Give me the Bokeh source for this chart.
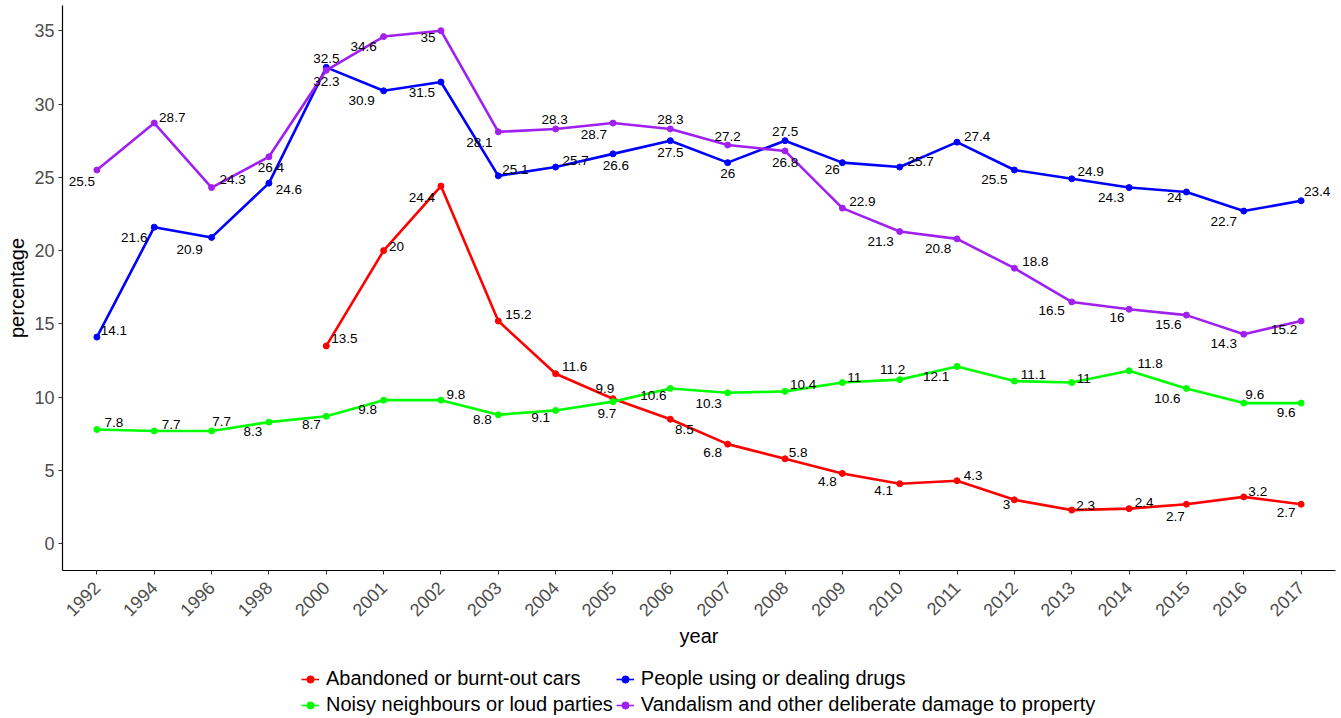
import math
from bokeh.plotting import figure
from bokeh.layouts import column
from bokeh.models import ColumnDataSource, Range1d, FixedTicker, Legend, LegendItem
from bokeh.core.properties import value
from bokeh.embed import file_html
from bokeh.resources import INLINE

NaN = float("nan")

# ---------------- data ----------------
years = ["1992", "1994", "1996", "1998", "2000", "2001", "2002", "2003", "2004", "2005", "2006",
         "2007", "2008", "2009", "2010", "2011", "2012", "2013", "2014", "2015", "2016", "2017"]

names = ["Abandoned or burnt-out cars", "Noisy neighbours or loud parties",
         "People using or dealing drugs", "Vandalism and other deliberate damage to property"]

cars = [NaN, NaN, NaN, NaN, 13.5, 20, 24.4, 15.2, 11.6, 9.9, 8.5,
        6.8, 5.8, 4.8, 4.1, 4.3, 3, 2.3, 2.4, 2.7, 3.2, 2.7]
noise = [7.8, 7.7, 7.7, 8.3, 8.7, 9.8, 9.8, 8.8, 9.1, 9.7, 10.6,
         10.3, 10.4, 11, 11.2, 12.1, 11.1, 11, 11.8, 10.6, 9.6, 9.6]
drugs = [14.1, 21.6, 20.9, 24.6, 32.5, 30.9, 31.5, 25.1, 25.7, 26.6, 27.5,
         26, 27.5, 26, 25.7, 27.4, 25.5, 24.9, 24.3, 24, 22.7, 23.4]
vandal = [25.5, 28.7, 24.3, 26.4, 32.3, 34.6, 35, 28.1, 28.3, 28.7, 28.3,
          27.2, 26.8, 22.9, 21.3, 20.8, 18.8, 16.5, 16, 15.6, 14.3, 15.2]

y_ticks = [0, 5, 10, 15, 20, 25, 30, 35]

# ---------------- label placement (screen px offsets, style only) ----------------
cars_dx = [0, 0, 0, 0, 18, 13, -19, 20, 19, -8, 14, -15, 13, -15, -16, 16, -8, 14, 15, -11, 14, -15]
cars_dy = [0, 0, 0, 0, -7, -4, 11, -6, -7, -10, 10, 8, -6, 8, 7, -5, 5, -5, -6, 12, -5, 8]
noise_dx = [17, 17, 10, -16, -15, -16, 15, -16, -15, -6, -17, -19, 18, 12, -7, -21, 19, 12, 21, -19, 11, -15]
noise_dy = [-7, -6, -9, 9, 8, 9, -6, 5, 7, 12, 7, 11, -7, -5, -10, 10, -7, -4, -7, 10, -9, 9]
drugs_dx = [17, -20, -22, 20, 0, -22, -19, 17, 20, 3, 0, 0, 0, -10, 21, 20, -20, 19, -18, -12, -20, 16]
drugs_dy = [-7, 10, 12, 6, -9, 10, 10, -6, -7, 12, 12, 11, -9, 7, -6, -6, 10, -7, 10, 6, 10, -9]
vandal_dx = [-15, 18, 21, 2, 0, -20, -13, -19, -1, -19, 0, 0, 0, 20, -19, -19, 21, -20, -12, -18, -20, -17]
vandal_dy = [12, -6, -8, 11, 11, 10, 7, 11, -9, 11, -9, -9, 12, -7, 10, 10, -7, 9, 8, 9, 9, 9]

colors = ["#FF0000", "#00FF00", "#0000FF", "#A020F0"]
series = [
    (names[0], cars, colors[0], cars_dx, cars_dy),
    (names[1], noise, colors[1], noise_dx, noise_dy),
    (names[2], drugs, colors[2], drugs_dx, drugs_dy),
    (names[3], vandal, colors[3], vandal_dx, vandal_dy),
]

FONT = "Liberation Sans"

p = figure(frame_width=1273, frame_height=565, output_backend="svg", toolbar_location=None,
           x_range=Range1d(-0.6, len(years) - 1 + 0.6), y_range=Range1d(-1.82, 36.72),
           min_border_left=62, min_border_right=6, min_border_top=5, min_border_bottom=82)
p.outline_line_color = None
p.xgrid.visible = False
p.ygrid.visible = False
p.background_fill_color = "white"
p.border_fill_color = "white"

xs_all = list(range(len(years)))
sources = {}
for name, vals, color, dx, dy in series:
    idx = [i for i in xs_all if not math.isnan(vals[i])]
    src = ColumnDataSource(dict(
        x=idx,
        y=[vals[i] for i in idx],
        lab=[("%g" % vals[i]) for i in idx],
        dx=[dx[i] for i in idx],
        dy=[dy[i] for i in idx],
    ))
    sources[name] = src
    p.line("x", "y", source=src, line_color=color, line_width=2.6)
    p.scatter("x", "y", source=src, size=6, fill_color=color, line_color=color)
    p.text("x", "y", text="lab", source=src, x_offset="dx", y_offset="dy",
           text_align="center", text_baseline="middle",
           text_font=value(FONT), text_font_size="13.5px", text_color="black")

# axes
p.xaxis.ticker = FixedTicker(ticks=xs_all)
p.xaxis.major_label_overrides = {i: y for i, y in enumerate(years)}
p.xaxis.major_label_orientation = math.pi / 4
p.yaxis.ticker = FixedTicker(ticks=y_ticks)
for ax in (p.xaxis[0], p.yaxis[0]):
    ax.axis_line_color = "black"
    ax.axis_line_width = 1.2
    ax.major_tick_line_color = "#333333"
    ax.major_tick_in = 0
    ax.major_tick_out = 4
    ax.minor_tick_line_color = None
    ax.major_label_text_font = FONT
    ax.major_label_text_color = "#4D4D4D"
    ax.axis_label_text_font = FONT
    ax.axis_label_text_font_style = "normal"
    ax.axis_label_text_font_size = "20px"
    ax.axis_label_text_color = "black"
p.xaxis.major_label_text_font_size = "18px"
p.yaxis.major_label_text_font_size = "18px"
p.xaxis.axis_label = "year"
p.yaxis.axis_label = "percentage"
p.xaxis.major_label_standoff = 10
p.yaxis.major_label_standoff = 4
p.xaxis.axis_label_standoff = 0
p.yaxis.axis_label_standoff = 3

# ---------------- legend strip (its own view range keeps the key glyphs' data out of sight) ----------------
lg = figure(width=1341, height=66, output_backend="svg", toolbar_location=None,
            x_range=Range1d(-100, -99), y_range=Range1d(-100, -99),
            min_border_left=0, min_border_right=0, min_border_top=0, min_border_bottom=0,
            x_axis_location=None, y_axis_location=None)
lg.outline_line_color = None
lg.xgrid.visible = False
lg.ygrid.visible = False
lg.border_fill_color = "white"
lg.background_fill_color = "white"

items = []
for name, color in zip(names, colors):
    r1 = lg.line("x", "y", source=sources[name], line_color=color, line_width=1.6)
    r2 = lg.scatter("x", "y", source=sources[name], size=5, fill_color=color, line_color=color)
    items.append(LegendItem(label=name, renderers=[r1, r2]))

legend = Legend(items=items, ncols=2, orientation="vertical", location=(239, 2),
                label_text_font=FONT, label_text_font_size="20px", label_text_color="black",
                glyph_width=18, glyph_height=20, label_standoff=7, spacing=3,
                padding=0, margin=0, border_line_color=None,
                background_fill_alpha=0)
lg.add_layout(legend, "center")

layout = column(p, lg, spacing=0)
open("out.html", "w").write(file_html(layout, INLINE))
